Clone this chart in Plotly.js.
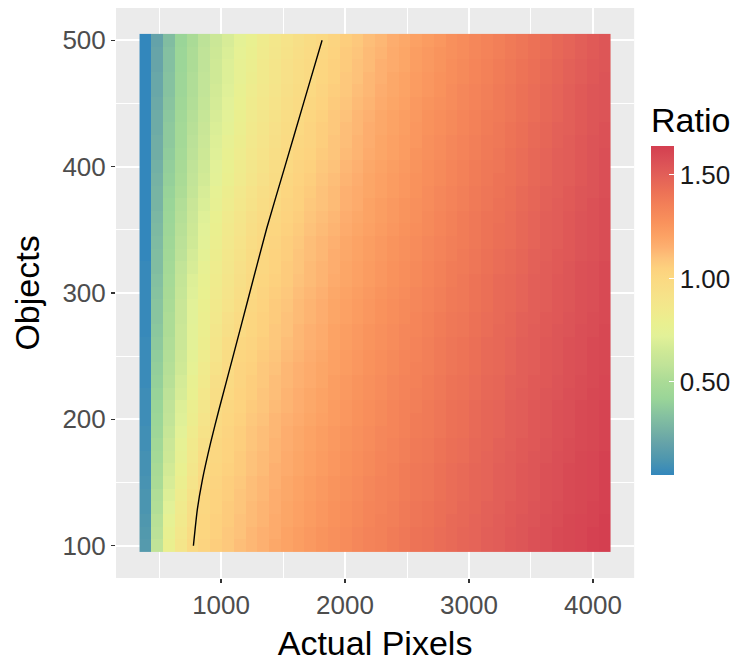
<!DOCTYPE html>
<html>
<head>
<meta charset="utf-8">
<script src="https://cdn.plot.ly/plotly-3.0.1.min.js"></script>
<style>
  html, body { margin: 0; padding: 0; background: #ffffff; }
  #chart { width: 737px; height: 662px; }
</style>
</head>
<body>
<div id="chart"></div>
<script>
// Actual Pixels (tile centres)
const actualPixels = [390,485,580,675,770,865,960,1055,1150,1245,1340,1435,1530,1625,1720,1815,1910,2005,2100,2195,2290,2385,2480,2575,2670,2765,2860,2955,3050,3145,3240,3335,3430,3525,3620,3715,3810,3905,4000,4095];
// Objects (tile centres)
const objects = [100,110,120,130,140,150,160,170,180,190,200,210,220,230,240,250,260,270,280,290,300,310,320,330,340,350,360,370,380,390,400,410,420,430,440,450,460,470,480,490,500];

// Ratio per Objects row (one value per Actual Pixels column)
const r100 = [0.15,0.58,0.79,0.89,0.99,1.03,1.06,1.08,1.11,1.13,1.15,1.18,1.20,1.22,1.24,1.26,1.28,1.30,1.32,1.34,1.35,1.37,1.39,1.41,1.42,1.44,1.45,1.47,1.48,1.50,1.51,1.53,1.54,1.56,1.57,1.59,1.60,1.61,1.63,1.64];
const r110 = [0.14,0.56,0.77,0.87,0.97,1.02,1.05,1.08,1.10,1.13,1.15,1.17,1.20,1.22,1.24,1.26,1.28,1.30,1.32,1.34,1.35,1.37,1.39,1.41,1.42,1.44,1.45,1.47,1.48,1.50,1.51,1.53,1.54,1.56,1.57,1.59,1.60,1.61,1.63,1.64];
const r120 = [0.13,0.55,0.75,0.85,0.95,1.02,1.05,1.07,1.10,1.12,1.14,1.17,1.19,1.21,1.23,1.25,1.27,1.29,1.31,1.33,1.35,1.36,1.38,1.40,1.41,1.43,1.45,1.46,1.48,1.49,1.51,1.52,1.54,1.55,1.57,1.58,1.60,1.61,1.62,1.64];
const r130 = [0.12,0.53,0.72,0.84,0.94,1.01,1.04,1.07,1.09,1.12,1.14,1.16,1.19,1.21,1.23,1.25,1.27,1.29,1.31,1.33,1.34,1.36,1.38,1.40,1.41,1.43,1.44,1.46,1.47,1.49,1.50,1.52,1.53,1.55,1.56,1.58,1.59,1.60,1.62,1.63];
const r140 = [0.12,0.52,0.70,0.82,0.92,1.01,1.04,1.06,1.09,1.11,1.13,1.16,1.18,1.20,1.22,1.24,1.26,1.28,1.30,1.32,1.34,1.35,1.37,1.39,1.40,1.42,1.44,1.45,1.47,1.48,1.50,1.51,1.53,1.54,1.56,1.57,1.59,1.60,1.61,1.63];
const r150 = [0.11,0.50,0.68,0.80,0.90,1.00,1.03,1.06,1.08,1.11,1.13,1.15,1.18,1.20,1.22,1.24,1.26,1.28,1.30,1.32,1.34,1.35,1.37,1.39,1.40,1.42,1.44,1.45,1.47,1.48,1.50,1.51,1.53,1.54,1.56,1.57,1.59,1.60,1.61,1.63];
const r160 = [0.10,0.49,0.66,0.78,0.88,0.98,1.02,1.05,1.07,1.10,1.12,1.15,1.17,1.19,1.21,1.23,1.25,1.27,1.29,1.31,1.33,1.35,1.37,1.39,1.40,1.42,1.44,1.45,1.47,1.48,1.50,1.51,1.53,1.54,1.56,1.57,1.59,1.60,1.61,1.63];
const r170 = [0.10,0.47,0.64,0.76,0.86,0.96,1.01,1.04,1.07,1.10,1.12,1.14,1.17,1.19,1.21,1.23,1.25,1.27,1.29,1.31,1.33,1.34,1.36,1.38,1.39,1.41,1.43,1.44,1.46,1.48,1.49,1.51,1.52,1.54,1.55,1.57,1.58,1.60,1.61,1.63];
const r180 = [0.09,0.46,0.63,0.75,0.85,0.94,1.01,1.04,1.06,1.09,1.11,1.14,1.16,1.18,1.20,1.22,1.24,1.26,1.28,1.30,1.32,1.34,1.36,1.38,1.39,1.41,1.43,1.44,1.46,1.47,1.49,1.50,1.52,1.53,1.55,1.56,1.58,1.59,1.60,1.62];
const r190 = [0.09,0.44,0.61,0.73,0.83,0.92,1.00,1.03,1.06,1.09,1.11,1.13,1.16,1.18,1.20,1.22,1.24,1.26,1.28,1.30,1.32,1.33,1.35,1.37,1.38,1.40,1.42,1.43,1.45,1.47,1.48,1.50,1.51,1.53,1.54,1.56,1.57,1.59,1.60,1.62];
const r200 = [0.08,0.43,0.59,0.71,0.81,0.90,0.99,1.02,1.05,1.08,1.10,1.13,1.15,1.17,1.19,1.21,1.23,1.25,1.27,1.29,1.31,1.33,1.35,1.37,1.38,1.40,1.42,1.43,1.45,1.47,1.48,1.50,1.51,1.53,1.54,1.56,1.57,1.59,1.60,1.62];
const r210 = [0.08,0.42,0.58,0.70,0.80,0.88,0.97,1.01,1.04,1.07,1.09,1.12,1.14,1.16,1.18,1.20,1.23,1.25,1.27,1.29,1.31,1.33,1.35,1.36,1.38,1.40,1.42,1.43,1.45,1.47,1.48,1.50,1.51,1.53,1.54,1.56,1.57,1.59,1.60,1.62];
const r220 = [0.08,0.41,0.57,0.68,0.78,0.87,0.95,1.00,1.04,1.06,1.09,1.11,1.14,1.16,1.18,1.20,1.22,1.24,1.26,1.28,1.30,1.32,1.34,1.36,1.37,1.39,1.41,1.42,1.44,1.46,1.47,1.49,1.51,1.52,1.54,1.55,1.57,1.58,1.60,1.61];
const r230 = [0.07,0.40,0.55,0.67,0.77,0.85,0.94,0.99,1.03,1.06,1.08,1.11,1.13,1.15,1.17,1.19,1.22,1.24,1.26,1.28,1.30,1.32,1.34,1.35,1.37,1.39,1.41,1.42,1.44,1.46,1.47,1.49,1.50,1.52,1.53,1.55,1.56,1.58,1.59,1.61];
const r240 = [0.07,0.39,0.54,0.65,0.75,0.84,0.92,0.98,1.03,1.05,1.08,1.10,1.13,1.15,1.17,1.19,1.21,1.23,1.25,1.27,1.29,1.31,1.33,1.35,1.36,1.38,1.40,1.41,1.43,1.45,1.46,1.48,1.50,1.51,1.53,1.54,1.56,1.57,1.59,1.60];
const r250 = [0.07,0.38,0.53,0.64,0.74,0.82,0.90,0.97,1.02,1.04,1.07,1.09,1.12,1.14,1.16,1.18,1.21,1.23,1.25,1.27,1.29,1.31,1.33,1.34,1.36,1.38,1.40,1.41,1.43,1.45,1.46,1.48,1.50,1.51,1.53,1.54,1.56,1.57,1.59,1.60];
const r260 = [0.07,0.37,0.52,0.63,0.73,0.81,0.89,0.96,1.01,1.03,1.06,1.08,1.11,1.13,1.15,1.17,1.20,1.22,1.24,1.26,1.28,1.30,1.32,1.34,1.36,1.38,1.40,1.41,1.43,1.45,1.46,1.48,1.50,1.51,1.53,1.54,1.56,1.57,1.59,1.60];
const r270 = [0.06,0.36,0.51,0.63,0.73,0.80,0.88,0.94,0.99,1.02,1.05,1.08,1.10,1.13,1.15,1.17,1.20,1.22,1.24,1.26,1.28,1.30,1.32,1.33,1.35,1.37,1.39,1.40,1.42,1.44,1.46,1.47,1.49,1.51,1.52,1.54,1.55,1.57,1.58,1.60];
const r280 = [0.06,0.35,0.51,0.62,0.72,0.80,0.86,0.93,0.98,1.02,1.05,1.07,1.10,1.12,1.14,1.16,1.19,1.21,1.23,1.25,1.27,1.29,1.31,1.33,1.35,1.37,1.39,1.40,1.42,1.44,1.45,1.47,1.49,1.50,1.52,1.53,1.55,1.56,1.58,1.59];
const r290 = [0.06,0.35,0.50,0.62,0.72,0.79,0.85,0.91,0.96,1.01,1.04,1.07,1.09,1.12,1.14,1.16,1.19,1.21,1.23,1.25,1.27,1.29,1.31,1.32,1.34,1.36,1.38,1.39,1.41,1.43,1.45,1.46,1.48,1.50,1.51,1.53,1.54,1.56,1.57,1.59];
const r300 = [0.06,0.34,0.49,0.61,0.71,0.78,0.84,0.90,0.95,1.00,1.03,1.06,1.08,1.11,1.13,1.15,1.18,1.20,1.22,1.24,1.26,1.28,1.30,1.32,1.34,1.36,1.38,1.39,1.41,1.43,1.45,1.46,1.48,1.50,1.51,1.53,1.54,1.56,1.57,1.59];
const r310 = [0.06,0.33,0.48,0.60,0.70,0.77,0.83,0.89,0.94,0.99,1.02,1.05,1.07,1.10,1.12,1.14,1.17,1.19,1.21,1.23,1.25,1.27,1.29,1.31,1.33,1.35,1.37,1.39,1.41,1.43,1.45,1.46,1.48,1.50,1.51,1.53,1.54,1.56,1.57,1.59];
const r320 = [0.06,0.32,0.47,0.59,0.68,0.76,0.82,0.88,0.93,0.98,1.01,1.04,1.07,1.09,1.12,1.14,1.16,1.19,1.21,1.23,1.25,1.27,1.29,1.31,1.33,1.35,1.37,1.38,1.40,1.42,1.44,1.45,1.47,1.49,1.51,1.52,1.54,1.56,1.57,1.59];
const r330 = [0.05,0.32,0.46,0.57,0.67,0.74,0.81,0.87,0.92,0.97,1.01,1.04,1.06,1.09,1.11,1.13,1.16,1.18,1.20,1.22,1.24,1.26,1.28,1.30,1.32,1.34,1.36,1.38,1.40,1.42,1.44,1.45,1.47,1.49,1.50,1.52,1.53,1.55,1.56,1.58];
const r340 = [0.05,0.31,0.45,0.56,0.65,0.73,0.80,0.86,0.91,0.96,1.00,1.03,1.06,1.08,1.11,1.13,1.15,1.18,1.20,1.22,1.24,1.26,1.28,1.30,1.32,1.34,1.36,1.37,1.39,1.41,1.43,1.44,1.46,1.48,1.50,1.51,1.53,1.55,1.56,1.58];
const r350 = [0.05,0.30,0.44,0.55,0.64,0.72,0.79,0.85,0.90,0.95,0.99,1.02,1.05,1.07,1.10,1.12,1.14,1.17,1.19,1.21,1.23,1.25,1.27,1.29,1.31,1.33,1.35,1.37,1.39,1.41,1.43,1.44,1.46,1.48,1.50,1.51,1.53,1.55,1.56,1.58];
const r360 = [0.05,0.29,0.43,0.54,0.63,0.71,0.78,0.84,0.89,0.94,0.98,1.01,1.04,1.06,1.09,1.11,1.13,1.16,1.18,1.20,1.22,1.24,1.26,1.28,1.31,1.33,1.35,1.37,1.39,1.41,1.42,1.44,1.46,1.48,1.50,1.51,1.53,1.55,1.56,1.58];
const r370 = [0.05,0.28,0.42,0.53,0.62,0.69,0.76,0.82,0.87,0.92,0.96,1.00,1.03,1.05,1.08,1.10,1.12,1.15,1.17,1.20,1.22,1.24,1.26,1.28,1.30,1.32,1.34,1.36,1.38,1.40,1.42,1.43,1.45,1.47,1.49,1.51,1.52,1.54,1.56,1.58];
const r380 = [0.05,0.28,0.41,0.51,0.60,0.68,0.75,0.81,0.86,0.91,0.95,0.98,1.02,1.05,1.07,1.10,1.12,1.15,1.17,1.19,1.21,1.23,1.25,1.27,1.30,1.32,1.34,1.36,1.38,1.40,1.41,1.43,1.45,1.47,1.49,1.50,1.52,1.54,1.55,1.57];
const r390 = [0.05,0.27,0.40,0.50,0.59,0.66,0.73,0.79,0.84,0.89,0.93,0.97,1.01,1.04,1.06,1.09,1.11,1.14,1.16,1.19,1.21,1.23,1.25,1.27,1.29,1.31,1.33,1.35,1.37,1.39,1.41,1.42,1.44,1.46,1.48,1.50,1.51,1.53,1.55,1.57];
const r400 = [0.05,0.26,0.39,0.49,0.58,0.65,0.72,0.78,0.83,0.88,0.92,0.96,1.00,1.03,1.05,1.08,1.10,1.13,1.15,1.18,1.20,1.22,1.24,1.26,1.29,1.31,1.33,1.35,1.37,1.39,1.40,1.42,1.44,1.46,1.48,1.50,1.51,1.53,1.55,1.57];
const r410 = [0.05,0.25,0.38,0.48,0.57,0.64,0.71,0.77,0.82,0.87,0.91,0.95,0.99,1.02,1.04,1.07,1.09,1.12,1.14,1.17,1.19,1.21,1.23,1.26,1.28,1.30,1.32,1.34,1.36,1.38,1.40,1.42,1.44,1.46,1.48,1.50,1.51,1.53,1.55,1.57];
const r420 = [0.05,0.25,0.37,0.47,0.56,0.63,0.70,0.76,0.81,0.86,0.90,0.94,0.98,1.01,1.03,1.06,1.09,1.11,1.14,1.16,1.19,1.21,1.23,1.25,1.28,1.30,1.32,1.34,1.36,1.38,1.39,1.41,1.43,1.45,1.47,1.49,1.51,1.53,1.55,1.56];
const r430 = [0.05,0.24,0.37,0.47,0.55,0.62,0.69,0.74,0.80,0.85,0.89,0.93,0.97,1.00,1.03,1.06,1.08,1.11,1.13,1.16,1.18,1.20,1.22,1.25,1.27,1.29,1.31,1.33,1.35,1.37,1.39,1.41,1.43,1.45,1.47,1.49,1.50,1.52,1.54,1.56];
const r440 = [0.05,0.24,0.36,0.46,0.54,0.61,0.68,0.73,0.79,0.84,0.88,0.92,0.96,0.99,1.02,1.05,1.08,1.10,1.13,1.15,1.18,1.20,1.22,1.24,1.27,1.29,1.31,1.33,1.35,1.37,1.38,1.40,1.42,1.44,1.46,1.48,1.50,1.52,1.54,1.55];
const r450 = [0.05,0.23,0.35,0.45,0.53,0.60,0.67,0.72,0.78,0.83,0.87,0.91,0.95,0.98,1.01,1.04,1.07,1.09,1.12,1.14,1.17,1.19,1.21,1.24,1.26,1.28,1.30,1.32,1.34,1.36,1.38,1.40,1.42,1.44,1.46,1.48,1.50,1.52,1.54,1.55];
const r460 = [0.05,0.22,0.34,0.44,0.52,0.59,0.66,0.71,0.77,0.82,0.86,0.90,0.94,0.97,1.00,1.03,1.06,1.08,1.11,1.13,1.16,1.18,1.20,1.23,1.25,1.27,1.30,1.32,1.34,1.36,1.38,1.40,1.42,1.44,1.46,1.48,1.50,1.52,1.54,1.55];
const r470 = [0.05,0.22,0.34,0.44,0.52,0.59,0.65,0.70,0.76,0.81,0.85,0.89,0.93,0.96,0.99,1.02,1.05,1.08,1.10,1.13,1.15,1.18,1.20,1.23,1.25,1.27,1.29,1.31,1.33,1.35,1.37,1.39,1.41,1.43,1.45,1.47,1.49,1.51,1.53,1.55];
const r480 = [0.05,0.21,0.33,0.43,0.51,0.58,0.65,0.70,0.76,0.80,0.85,0.89,0.93,0.96,0.99,1.02,1.05,1.07,1.10,1.12,1.15,1.17,1.19,1.22,1.24,1.26,1.29,1.31,1.33,1.35,1.37,1.39,1.41,1.43,1.45,1.47,1.49,1.51,1.53,1.54];
const r490 = [0.05,0.21,0.33,0.43,0.51,0.58,0.64,0.69,0.75,0.79,0.84,0.88,0.92,0.95,0.98,1.01,1.04,1.07,1.09,1.12,1.14,1.17,1.19,1.22,1.24,1.26,1.28,1.30,1.32,1.34,1.36,1.38,1.40,1.42,1.44,1.46,1.48,1.50,1.52,1.54];
const r500 = [0.05,0.20,0.32,0.42,0.50,0.57,0.63,0.68,0.74,0.78,0.83,0.87,0.91,0.94,0.97,1.00,1.03,1.06,1.08,1.11,1.13,1.16,1.18,1.21,1.23,1.25,1.28,1.30,1.32,1.34,1.36,1.38,1.40,1.42,1.44,1.46,1.48,1.50,1.52,1.54];

// Ratio = 1 contour line
const contourPixels  = [777, 809, 849, 917, 984, 1100, 1223, 1368, 1515, 1665, 1815];
const contourObjects = [100, 129, 152, 182, 208, 251, 297, 351, 400, 450, 500];

// Colour bar ticks
const ratioTicks = [0.5, 1.0, 1.5];
const ratioTickText = ["0.50", "1.00", "1.50"];

// colour ramp (value -> colour)
const rampValues = [0.05,0.13,0.20,0.27,0.34,0.42,0.50,0.58,0.65,0.72,0.78,0.85,0.90,0.95,1.00,1.05,1.10,1.15,1.20,1.27,1.35,1.42,1.50,1.57,1.64];
const rampColors = ["#3387bc","#4f97ae","#64a2a9","#76b2a4","#86c2a0","#9ad598","#aadb96","#c0e398","#cfe996","#e2f198","#e9f090","#f1e98c","#f5e48a","#f8de86","#fbd982","#fdd17e","#fdc27a","#fdb070","#fca365","#f9925c","#f38158","#ec7156","#e25f58","#da4f56","#d43f50"];

const ratio = [r100,r110,r120,r130,r140,r150,r160,r170,r180,r190,r200,r210,r220,r230,r240,r250,r260,r270,r280,r290,r300,r310,r320,r330,r340,r350,r360,r370,r380,r390,r400,r410,r420,r430,r440,r450,r460,r470,r480,r490,r500];

const zMin = 0.05, zMax = 1.64;
const colorscale = rampValues.map((v, i) => [(v - zMin) / (zMax - zMin), rampColors[i]]);

const FONT = "Liberation Sans, Arial, Helvetica, sans-serif";

// plot area geometry (pixels)
const W = 737, H = 662;
const M = { l: 116, r: 2, t: 8, b: 84 };
const innerW = W - M.l - M.r;      // 619
const innerH = H - M.t - M.b;      // 570
const panelRight = 635;            // right edge of grey panel
const barLeft = 651, barBottom = 475;

const heat = {
  type: 'heatmap',
  x: actualPixels,
  y: objects,
  z: ratio,
  zmin: zMin,
  zmax: zMax,
  zsmooth: false,
  colorscale: colorscale,
  hoverinfo: 'skip',
  colorbar: {
    title: { text: 'Ratio', side: 'top', font: { family: FONT, size: 34, color: '#000000' } },
    thickness: 23, thicknessmode: 'pixels',
    len: 372, lenmode: 'pixels',
    x: (barLeft - M.l) / innerW, xanchor: 'left', xref: 'paper',
    y: (H - M.b - barBottom) / innerH, yanchor: 'bottom', yref: 'paper',
    outlinewidth: 0,
    tickvals: ratioTicks,
    ticktext: ratioTickText,
    ticks: 'inside', ticklen: 5, tickcolor: '#ffffff', tickwidth: 1,
    tickfont: { family: FONT, size: 26, color: '#1a1a1a' },
    xpad: 0, ypad: 0
  }
};

const line = {
  type: 'scatter',
  mode: 'lines',
  x: contourPixels,
  y: contourObjects,
  line: { color: '#000000', width: 1.4, shape: 'spline', smoothing: 0.6 },
  hoverinfo: 'skip',
  showlegend: false
};

const layout = {
  width: W, height: H,
  margin: M,
  paper_bgcolor: '#ffffff',
  plot_bgcolor: '#ebebeb',
  showlegend: false,
  font: { family: FONT },
  xaxis: {
    domain: [0, (panelRight - M.l) / innerW],
    range: [152.5, 4332.5],
    tick0: 0, dtick: 1000,
    showgrid: true, gridcolor: '#ffffff', gridwidth: 2,
    minor: { tick0: 500, dtick: 1000, showgrid: true, gridcolor: '#ffffff', gridwidth: 1, ticks: '' },
    zeroline: false, showline: false,
    ticks: 'outside', ticklen: 4, tickwidth: 1.2, tickcolor: '#333333',
    tickfont: { family: FONT, size: 26, color: '#4d4d4d' },
    title: { text: 'Actual Pixels', font: { family: FONT, size: 34, color: '#000000' }, standoff: 14 }
  },
  yaxis: {
    range: [74.5, 525.5],
    tick0: 0, dtick: 100,
    showgrid: true, gridcolor: '#ffffff', gridwidth: 2,
    minor: { tick0: 50, dtick: 100, showgrid: true, gridcolor: '#ffffff', gridwidth: 1, ticks: '' },
    zeroline: false, showline: false,
    ticks: 'outside', ticklen: 4, tickwidth: 1.2, tickcolor: '#333333',
    tickfont: { family: FONT, size: 26, color: '#4d4d4d' },
    title: { text: 'Objects', font: { family: FONT, size: 34, color: '#000000' }, standoff: 12 }
  }
};

Plotly.newPlot('chart', [heat, line], layout, { staticPlot: true, displayModeBar: false });
</script>
</body>
</html>
